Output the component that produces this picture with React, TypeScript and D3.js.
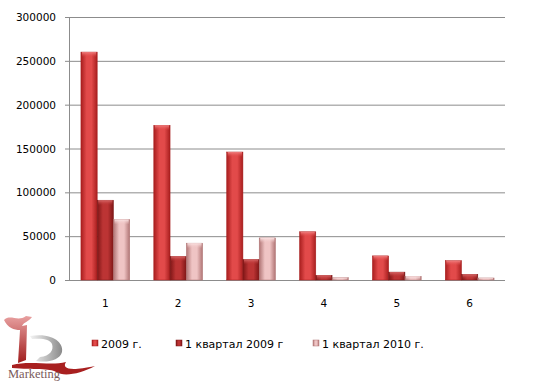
import React from "react";
import * as d3 from "d3";

const categories = ["1", "2", "3", "4", "5", "6"];
const seriesNames = ["2009 г.", "1 квартал 2009 г", "1 квартал 2010 г."];
const s2009 = [260000, 176500, 146000, 55000, 27500, 22000];
const q1_2009 = [91000, 27000, 23500, 5400, 9000, 6500];
const q1_2010 = [69000, 42000, 48000, 2600, 4200, 2300];
const yTicks = [0, 50000, 100000, 150000, 200000, 250000, 300000];

const W = 541, H = 383;
const margin = { left: 70, right: 36, top: 17, bottom: 103 };

const palettes = [
  { edge: "#a81e1e", mid: "#e24a4a", cap: "#f08080" },
  { edge: "#7e1616", mid: "#bc3434", cap: "#d86a6a" },
  { edge: "#b07474", mid: "#efc4c4", cap: "#fbe4e4" },
];

export default function App() {
  const series = [s2009, q1_2009, q1_2010];
  const x = d3.scaleBand().domain(categories).range([margin.left, W - margin.right]).paddingInner(0.33).paddingOuter(0.15);
  const xs = d3.scaleBand().domain(["0", "1", "2"]).range([0, x.bandwidth()]);
  const y = d3.scaleLinear().domain([0, 300000]).range([H - margin.bottom, margin.top]);
  const font = "'DejaVu Sans', Verdana, sans-serif";
  const legendX = [92, 176, 313];

  return (
    <svg width={W} height={H} style={{ position: "absolute", left: 0, top: 0, background: "#fff" }}>
      <defs>
        {palettes.map((p, i) => (
          <linearGradient key={i} id={`g${i}`} x1="0" x2="1" y1="0" y2="0">
            <stop offset="0" stopColor={p.edge} />
            <stop offset="0.35" stopColor={p.mid} />
            <stop offset="0.65" stopColor={p.mid} />
            <stop offset="1" stopColor={p.edge} />
          </linearGradient>
        ))}
        {palettes.map((p, i) => (
          <linearGradient key={i} id={`c${i}`} x1="0" x2="0" y1="0" y2="1">
            <stop offset="0" stopColor={p.cap} />
            <stop offset="1" stopColor={p.mid} stopOpacity="0" />
          </linearGradient>
        ))}
        <linearGradient id="logoD" x1="0" x2="1" y1="0" y2="0">
          <stop offset="0" stopColor="#f4f4f4" />
          <stop offset="1" stopColor="#8a8a8a" />
        </linearGradient>
        <linearGradient id="logo1" x1="0" x2="0" y1="0" y2="1">
          <stop offset="0" stopColor="#e8a0a0" />
          <stop offset="1" stopColor="#a01c1c" />
        </linearGradient>
      </defs>

      {yTicks.map((t) => (
        <g key={t}>
          {t > 0 && (
            <line x1={margin.left} x2={W - margin.right} y1={y(t) + 0.5} y2={y(t) + 0.5} stroke="#8c8c8c" strokeWidth={1} />
          )}
          <line x1={margin.left - 5} x2={margin.left} y1={y(t) + 0.5} y2={y(t) + 0.5} stroke="#8c8c8c" />
          <text x={56} y={y(t) + 4} textAnchor="end" fontFamily={font} fontSize={10.5} fill="#000">{t}</text>
        </g>
      ))}
      <line x1={margin.left - 0.5} x2={margin.left - 0.5} y1={margin.top} y2={y(0)} stroke="#8c8c8c" />
      <line x1={margin.left} x2={W - margin.right} y1={y(0) + 0.5} y2={y(0) + 0.5} stroke="#8c8c8c" />

      {series.map((vals, si) =>
        vals.map((v, ci) => {
          const bx = (x(categories[ci]) as number) + (xs(String(si)) as number);
          const bw = xs.bandwidth();
          const by = y(v);
          const bh = y(0) - by;
          return (
            <g key={`${si}-${ci}`}>
              <rect x={bx} y={by} width={bw} height={bh} fill={`url(#g${si})`} stroke={palettes[si].edge} strokeWidth={0.5} />
              <rect x={bx + 1} y={by} width={bw - 2} height={Math.min(5, bh)} fill={`url(#c${si})`} />
            </g>
          );
        })
      )}

      {categories.map((c) => (
        <text key={c} x={(x(c) as number) + x.bandwidth() / 2} y={307} textAnchor="middle" fontFamily={font} fontSize={10.5} fill="#000">{c}</text>
      ))}

      {seriesNames.map((n, i) => (
        <g key={n}>
          <rect x={legendX[i]} y={340} width={6} height={6} fill={`url(#g${i})`} stroke={palettes[i].edge} strokeWidth={0.5} />
          <text x={legendX[i] + 9} y={348} fontFamily={font} fontSize={11} fill="#000">{n}</text>
        </g>
      ))}

      <g>
        <path d="M4,320 C10,314 18,322 26,316 L32,317 C28,322 24,322 22,326 L27,325 L26,360 L18,363 L20,330 C14,330 8,328 4,320 Z" fill="url(#logo1)" />
        <path d="M30,336 C54,332 64,344 62,352 C60,360 48,363 36,361 L40,357 C50,356 54,350 52,344 C50,339 42,338 32,339 Z" fill="url(#logoD)" />
        <path d="M12,365 C30,360 50,366 66,362 C62,368 68,372 95,366 C80,374 64,377 56,372 C50,368 34,370 12,368 Z" fill="#a82020" />
        <text x={8} y={378} fontFamily="'Liberation Serif', serif" fontSize={12.5} fill="#7a5a5a">Marketing</text>
      </g>
    </svg>
  );
}
